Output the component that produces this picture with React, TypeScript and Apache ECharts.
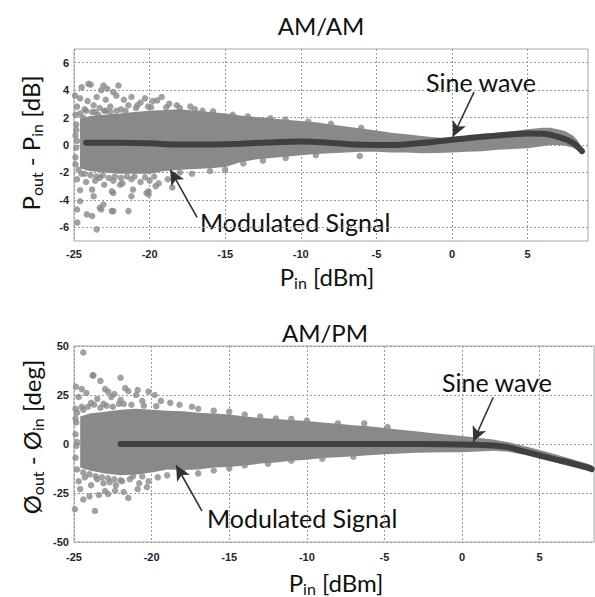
import React, { useEffect, useRef } from 'react';
import * as echarts from 'echarts';

// ---------- tick labels ----------
const xTicks = [-25, -20, -15, -10, -5, 0, 5];
const yTicksAMAM = [-6, -4, -2, 0, 2, 4, 6];
const yTicksAMPM = [-50, -25, 0, 25, 50];

// ---------- AM/AM : sine-wave curve ----------
const amamSineX = [-24.2, -22, -20, -18, -16, -14, -12, -10, -8, -6, -4, -2, 0, 1, 2, 3, 4, 5, 6, 6.5, 7, 7.5, 8, 8.3, 8.6];
const amamSineY = [0.17, 0.17, 0.12, 0.03, 0.04, 0.1, 0.18, 0.25, 0.15, 0.02, 0.0, 0.15, 0.38, 0.5, 0.6, 0.7, 0.78, 0.84, 0.82, 0.75, 0.6, 0.42, 0.15, -0.1, -0.45];

// ---------- AM/AM : dense cloud envelope ----------
const amamBandX = [-24.6, -24, -23, -22, -21, -20, -19, -18, -17, -16, -15, -14, -13, -12, -11, -10, -9, -8, -7, -6, -5, -4, -3, -2, -1, 0, 1, 2, 3, 4, 5, 6, 6.5, 7, 7.5, 8, 8.3, 8.6];
const amamBandUp = [1.9, 2.1, 2.2, 2.3, 2.4, 2.5, 2.55, 2.6, 2.5, 2.4, 2.3, 2.15, 2.05, 1.95, 1.85, 1.75, 1.65, 1.5, 1.35, 1.2, 1.05, 0.9, 0.78, 0.65, 0.55, 0.5, 0.55, 0.7, 0.85, 1.0, 1.15, 1.25, 1.25, 1.15, 1.0, 0.7, 0.35, -0.2];
const amamBandLo = [-1.7, -1.9, -2.0, -2.1, -2.1, -2.1, -1.9, -1.8, -1.75, -1.7, -1.6, -1.25, -1.05, -0.95, -0.85, -0.75, -0.65, -0.6, -0.55, -0.5, -0.5, -0.55, -0.55, -0.6, -0.58, -0.55, -0.5, -0.45, -0.35, -0.3, -0.24, -0.1, 0.0, 0.0, -0.05, -0.2, -0.4, -0.6];

// ---------- AM/AM : scattered samples ----------
const amamPoints: number[][] = [
  [-24.5, 4.2], [-24.05, 4.46], [-23.9, 4.4], [-23.05, 4.34], [-22.8, 4.1], [-22.06, 4.34], [-22.4, 3.86], [-23.2, 4.0],
  [-24.93, 3.6], [-24.6, 3.4], [-24.1, 3.2], [-23.5, 3.5], [-22.9, 3.3], [-22.2, 3.6], [-21.7, 3.3], [-21.2, 3.5],
  [-20.6, 3.1], [-20.3, 3.4], [-19.8, 3.2], [-19.2, 3.5], [-19.5, 3.25], [-18.7, 3.0], [-17.3, 2.8], [-18.2, 2.9],
  [-24.8, 2.8], [-24.3, 2.6], [-23.7, 2.9], [-23.3, 2.7], [-22.6, 2.8], [-21.9, 2.6], [-21.4, 2.9], [-20.9, 2.7], [-20.1, 2.8],
  [-24.9, 2.2], [-24.6, 2.3], [-24.2, 2.5], [-23.8, 2.4], [-23.4, 2.2], [-23.0, 2.5], [-22.6, 2.4], [-22.2, 2.5],
  [-24.85, 1.5], [-24.4, 2.0], [-23.6, 2.4], [-22.9, 2.5], [-21.6, 2.5], [-20.8, 2.9], [-19.9, 2.75], [-18.9, 2.75],
  [-24.9, 0.7], [-24.85, -0.2], [-24.9, -0.9], [-24.8, 0.3], [-24.85, 1.1], [-24.9, -1.4],
  [-24.7, -1.8], [-24.3, -2.1], [-23.9, -2.2], [-23.5, -2.3], [-23.1, -2.2], [-22.7, -2.4], [-22.3, -2.3], [-21.9, -2.4], [-21.5, -2.3],
  [-24.8, -2.5], [-24.2, -2.7], [-23.6, -2.6], [-23.0, -2.9], [-22.4, -2.6], [-21.8, -2.8], [-21.2, -2.5], [-20.6, -2.7], [-20.0, -2.6], [-19.4, -2.8], [-18.8, -2.5],
  [-24.5, -2.1], [-23.3, -2.4], [-21.0, -2.3], [-20.3, -2.35], [-19.7, -2.3], [-18.4, -2.2],
  [-24.6, -3.3], [-23.8, -3.25], [-23.7, -3.74], [-22.4, -3.5], [-21.95, -2.9], [-21.2, -3.74], [-20.07, -3.38], [-20.07, -3.6],
  [-22.5, -3.38], [-20.2, -3.5], [-21.1, -3.25], [-24.8, -4.7], [-24.6, -4.1], [-24.15, -5.06], [-23.8, -5.18], [-23.5, -6.15],
  [-23.05, -4.34], [-23.2, -4.7], [-22.5, -4.82], [-21.4, -4.82], [-24.78, -5.66], [-23.3, -4.58], [-22.4, -4.82], [-19.6, -3.0], [-18.5, -3.1],
  [-18.0, 2.7], [-17.0, 2.6], [-16.5, 2.5], [-15.8, 2.45], [-14.5, 2.2], [-13.5, 2.1], [-12.0, 1.95], [-11.0, 1.85], [-9.5, 1.7], [-8.0, 1.55], [-6.0, 1.25],
  [-18.0, -2.0], [-17.2, -2.1], [-16.0, -1.9], [-15.0, -1.8], [-13.8, -1.35], [-12.5, -1.15], [-11.0, -0.95], [-9.0, -0.75], [-6.1, -0.8],
];

// ---------- AM/PM : sine-wave curve ----------
const ampmSineX = [-22, -15, -10, -5, 0, 1, 2, 3, 4, 5, 6, 7, 8, 8.35];
const ampmSineY = [0, 0, 0, 0, -0.2, -0.4, -0.8, -1.7, -3.8, -5.8, -7.8, -9.7, -11.8, -12.8];

// ---------- AM/PM : dense cloud envelope ----------
const ampmBandX = [-24.6, -24, -23, -22, -21, -20, -19, -18, -17, -16, -15, -14, -13, -12, -11, -10, -9, -8, -7, -6, -5, -4, -3, -2, -1, 0, 1, 2, 3, 4, 5, 6, 7, 8, 8.4];
const ampmBandUp = [14, 15.5, 16.5, 17.5, 18, 17.5, 17, 16.7, 16, 15.5, 15, 14, 13.3, 12.8, 12.3, 11.7, 11, 10.3, 9.6, 9, 8.2, 7.3, 6.5, 5.6, 4.8, 4.1, 3.2, 2.3, 0.9, -1.0, -3.0, -5.2, -7.5, -9.8, -11];
const ampmBandLo = [-12, -13.5, -15, -16, -15.5, -14.5, -13, -13.3, -13, -12, -11.7, -11, -10, -9.5, -8.5, -8, -7.2, -6.7, -6.2, -5.8, -5.2, -4.8, -4.5, -4.3, -4.2, -4.2, -3.8, -3.5, -4.0, -5.5, -7.5, -9.5, -11.5, -13.5, -14.5];

// ---------- AM/PM : scattered samples ----------
const ampmPoints: number[][] = [
  [-24.4, 46.7], [-23.8, 35], [-23.3, 32.2], [-22.0, 33.8], [-24.87, 29.2], [-24.5, 28], [-24.2, 26], [-23.75, 35],
  [-22.8, 26.7], [-20.2, 26.7], [-23.0, 28], [-22.4, 25.5], [-21.5, 27], [-21.0, 25], [-20.6, 22], [-24.7, 24],
  [-23.5, 23], [-22.0, 22.5], [-19.8, 25], [-19.4, 22], [-18.8, 21], [-18.2, 20], [-17.4, 19], [-21.7, 28.5], [-20.9, 27.5], [-22.6, 24],
  [-24.9, 18], [-24.5, 19], [-24.1, 19], [-23.7, 20], [-23.3, 18.5], [-22.9, 19.5], [-22.5, 19], [-22.1, 20.5],
  [-24.8, 16], [-24.4, 17.5], [-23.9, 21], [-23.1, 20.5], [-21.3, 20], [-20.5, 19.5], [-19.7, 19.3], [-21.8, 20.5],
  [-24.9, 5], [-24.85, -1], [-24.9, -7], [-24.8, 1], [-24.85, 11], [-24.9, 13],
  [-24.8, -13], [-24.4, -14.5], [-24.0, -15.5], [-23.6, -16.5], [-23.2, -17], [-22.8, -17.5], [-22.4, -18], [-22.0, -18.5],
  [-24.7, -19], [-24.3, -17], [-23.9, -21], [-23.5, -18], [-23.1, -20], [-22.7, -19.5], [-22.3, -21], [-21.9, -19],
  [-21.4, -18], [-20.8, -20], [-20.2, -19], [-19.6, -17], [-19.0, -16], [-20.6, -16.5], [-21.2, -16.5],
  [-24.94, -33.3], [-23.65, -34.2], [-24.4, -28.3], [-24.0, -26.7], [-21.5, -27.5], [-22.35, -23.8], [-23.0, -24],
  [-20.9, -23], [-20.3, -22], [-24.6, -23], [-23.4, -26], [-22.8, -25.5], [-21.8, -24.5],
  [-17, 18], [-16, 17], [-15, 16.5], [-14, 15], [-13, 14], [-12, 13], [-11, 12.8], [-10, 12], [-8, 10.5], [-6.3, 10.5], [-4.8, 8.7],
  [-18, -14], [-17, -15], [-16, -13.5], [-15, -12.5], [-14, -11], [-12.5, -10], [-11, -8.5], [-9, -7.5], [-7, -6.5],
];

const CLOUD = '#898989';
const CURVE = '#404040';
const GRIDC = '#9a9a9a';
const TICKC = '#1b2533';
const FONT = 'Lato, "Open Sans", sans-serif';

function pairs(xs: number[], ys: number[]) {
  return xs.map((x, i) => [x, ys[i]]);
}

function bandSeries(xs: number[], up: number[], lo: number[], idx: number) {
  return {
    type: 'custom',
    xAxisIndex: idx,
    yAxisIndex: idx,
    silent: true,
    z: 1,
    data: [[xs[0], up[0]]],
    renderItem: (_p: any, api: any) => {
      const pts: number[][] = [];
      for (let i = 0; i < xs.length; i++) pts.push(api.coord([xs[i], up[i]]));
      for (let i = xs.length - 1; i >= 0; i--) pts.push(api.coord([xs[i], lo[i]]));
      return { type: 'polygon', shape: { points: pts }, style: { fill: CLOUD } };
    },
  };
}

function xAxisOpt(idx: number, max: number, margin: number) {
  return {
    type: 'value', gridIndex: idx, min: -25, max,
    axisLine: { show: false },
    axisTick: { show: false, customValues: xTicks },
    axisLabel: { customValues: xTicks, margin, color: TICKC, fontWeight: 'bold', fontSize: 11, fontFamily: 'Liberation Sans, Arial, sans-serif' },
    splitLine: { show: true, lineStyle: { type: [2, 2], color: GRIDC, width: 1 } },
  };
}

function yAxisOpt(idx: number, min: number, max: number, ticks: number[]) {
  return {
    type: 'value', gridIndex: idx, min, max,
    axisLine: { show: false },
    axisTick: { show: false, customValues: ticks },
    axisLabel: { customValues: ticks, margin: 5, color: TICKC, fontWeight: 'bold', fontSize: 11, fontFamily: 'Liberation Sans, Arial, sans-serif' },
    splitLine: { show: true, lineStyle: { type: [2, 2], color: GRIDC, width: 1 } },
  };
}

const arrowMarkLine = (segs: number[][][]) => ({
  silent: true,
  symbol: ['none', 'arrow'],
  symbolSize: [11, 15],
  lineStyle: { color: '#333333', width: 1.6, type: 'solid' },
  label: { show: false },
  emphasis: { disabled: true },
  data: segs.map((s) => [{ coord: s[0] }, { coord: s[1] }]),
});

const richMain = { fontSize: 24, fontFamily: FONT, fill: '#111', lineHeight: 28 };
const richSub = { fontSize: 16, fontFamily: FONT, fill: '#111', lineHeight: 15, verticalAlign: 'bottom' };
const richNote = { fontSize: 25, fontFamily: FONT, fill: '#111', lineHeight: 28 };

function label(text: string, x: number, y: number, rotation = 0, align = 'center') {
  return {
    type: 'text', x, y, rotation,
    style: {
      text, align, verticalAlign: 'middle',
      rich: { a: richMain, s: richSub, n: richNote },
    },
  };
}

export default function App() {
  const ref = useRef<HTMLDivElement>(null);
  useEffect(() => {
    if (!ref.current) return;
    const chart = echarts.init(ref.current, undefined, { renderer: 'svg' });
    chart.setOption({
      animation: false,
      backgroundColor: '#ffffff',
      grid: [
        { left: 74, top: 49, width: 514, height: 192, show: true, borderColor: '#a6a6a6', borderWidth: 1 },
        { left: 74, top: 346, width: 520, height: 196, show: true, borderColor: '#a6a6a6', borderWidth: 1 },
      ],
      xAxis: [xAxisOpt(0, 9, 7), xAxisOpt(1, 8.5, 9)],
      yAxis: [yAxisOpt(0, -7, 7, yTicksAMAM), yAxisOpt(1, -50, 50, yTicksAMPM)],
      series: [
        bandSeries(amamBandX, amamBandUp, amamBandLo, 0),
        {
          type: 'scatter', xAxisIndex: 0, yAxisIndex: 0, data: amamPoints, symbolSize: 6.5,
          itemStyle: { color: CLOUD }, silent: true, z: 2,
        },
        {
          type: 'line', xAxisIndex: 0, yAxisIndex: 0, data: pairs(amamSineX, amamSineY), smooth: 0.4,
          symbol: 'none', lineStyle: { color: CURVE, width: 6, cap: 'round' }, silent: true, z: 3,
          markLine: arrowMarkLine([
            [[1.46, 3.85], [0.06, 0.6]],
            [[-16.86, -5.28], [-18.63, -1.81]],
          ]),
        },
        bandSeries(ampmBandX, ampmBandUp, ampmBandLo, 1),
        {
          type: 'scatter', xAxisIndex: 1, yAxisIndex: 1, data: ampmPoints, symbolSize: 6.5,
          itemStyle: { color: CLOUD }, silent: true, z: 2,
        },
        {
          type: 'line', xAxisIndex: 1, yAxisIndex: 1, data: pairs(ampmSineX, ampmSineY), smooth: 0.4,
          symbol: 'none', lineStyle: { color: CURVE, width: 6, cap: 'round' }, silent: true, z: 3,
          markLine: arrowMarkLine([
            [[2.01, 23.85], [0.72, 1.15]],
            [[-16.76, -34.15], [-18.42, -10.85]],
          ]),
        },
      ],
      graphic: [
        label('{a|AM/AM}', 321, 25),
        label('{a|P}{s|in}{a| [dBm]}', 327, 276),
        label('{a|P}{s|out}{a| - P}{s|in}{a| [dB]}', 30, 143, Math.PI / 2),
        label('{n|Sine wave}', 481, 82),
        label('{n|Modulated Signal}', 200, 222, 0, 'left'),
        label('{a|AM/PM}', 325, 332),
        label('{a|P}{s|in}{a| [dBm]}', 336, 582),
        label('{a|Ø}{s|out}{a| - Ø}{s|in}{a| [deg]}', 31, 437, Math.PI / 2),
        label('{n|Sine wave}', 497, 382),
        label('{n|Modulated Signal}', 207, 518, 0, 'left'),
      ],
    });
    return () => chart.dispose();
  }, []);
  return <div ref={ref} style={{ position: 'fixed', left: 0, top: 0, width: 595, height: 597 }} />;
}
